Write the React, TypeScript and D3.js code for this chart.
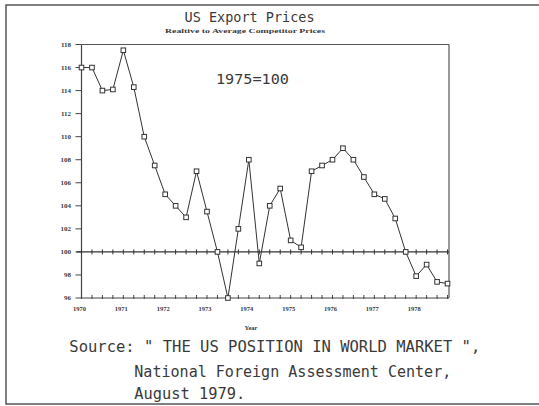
import React from "react";
import * as d3 from "d3";

const quarters: number[] = [
  1970, 1970.25, 1970.5, 1970.75, 1971, 1971.25, 1971.5, 1971.75,
  1972, 1972.25, 1972.5, 1972.75, 1973, 1973.25, 1973.5, 1973.75,
  1974, 1974.25, 1974.5, 1974.75, 1975, 1975.25, 1975.5, 1975.75,
  1976, 1976.25, 1976.5, 1976.75, 1977, 1977.25, 1977.5, 1977.75,
  1978, 1978.25, 1978.5, 1978.75,
];
const prices: number[] = [
  116, 116, 114, 114.1, 117.5, 114.3, 110, 107.5,
  105, 104, 103, 107, 103.5, 100, 96, 102,
  108, 99, 104, 105.5, 101, 100.4, 107, 107.5,
  108, 109, 108, 106.5, 105, 104.6, 102.9, 100,
  97.9, 98.9, 97.4, 97.25,
];
const yTicks: number[] = [96, 98, 100, 102, 104, 106, 108, 110, 112, 114, 116, 118];
const yearLabels: string[] = ["1970", "1971", "1972", "1973", "1974", "1975", "1976", "1977", "1978"];

const title = "US Export Prices";
const subtitle = "Realtive to Average Competitor Prices";
const baseNote = "1975=100";
const xTitle = "Year";
const sourceLines: string[] = [
  "Source: \" THE US POSITION IN WORLD MARKET \",",
  "National Foreign Assessment Center,",
  "August 1979.",
];

export default function App() {
  const W = 539, H = 406;
  const left = 81.5, right = 449, top = 44.5, bottom = 298;
  const x = d3.scaleLinear().domain([1970, 1978.785]).range([left, right]);
  const y = d3.scaleLinear().domain([96, 118]).range([bottom, top]);
  const line = d3.line<number>()
    .x((_, i) => x(quarters[i]))
    .y((d) => y(d));
  const ink = "#3a3a3a";
  const monoFont = "'DejaVu Sans Mono', monospace";
  const serifFont = "'Liberation Serif', 'DejaVu Serif', serif";
  const quarterTicks = d3.range(0, 36).map((i) => 1970 + i * 0.25);

  return (
    <svg width={W} height={H} style={{ position: "absolute", left: 0, top: 0, background: "#fff" }}>
      {/* outer frame */}
      <rect x={6} y={5} width={W + 10} height={399} fill="none" stroke="#555" strokeWidth={1.5} />

      {/* titles */}
      <text x={184.6} y={22} fontFamily={monoFont} fontSize={13.5} fill={ink} textLength={130} lengthAdjust="spacingAndGlyphs">{title}</text>
      <text x={165} y={32.5} fontFamily={serifFont} fontWeight="bold" fontSize={7} fill={ink} textLength={160} lengthAdjust="spacingAndGlyphs">{subtitle}</text>
      <text x={216} y={84} fontFamily={monoFont} fontSize={14.6} fill={ink} textLength={73} lengthAdjust="spacingAndGlyphs">{baseNote}</text>

      {/* plot frame */}
      <line x1={left} x2={right} y1={top} y2={top} stroke="#555" strokeWidth={1.2} />
      <line x1={right} x2={right} y1={top} y2={bottom} stroke="#555" strokeWidth={1.2} />
      <line x1={left} x2={left} y1={top} y2={bottom} stroke="#444" strokeWidth={1.2} />
      <line x1={left} x2={right} y1={bottom} y2={bottom} stroke="#444" strokeWidth={1.2} />

      {/* y ticks */}
      {yTicks.map((t) => (
        <g key={t}>
          <line x1={left - 6} x2={left} y1={y(t)} y2={y(t)} stroke="#444" strokeWidth={1} />
          <text x={71} y={y(t)} dy="0.33em" textAnchor="end" fontFamily={serifFont} fontWeight="bold" fontSize={7} fill={ink}>{t}</text>
        </g>
      ))}

      {/* reference line at 100 with quarter ticks */}
      <line x1={left - 5} x2={right} y1={y(100)} y2={y(100)} stroke="#333" strokeWidth={1.2} />
      {quarterTicks.map((q, i) => (
        <g key={i}>
          <line x1={x(q)} x2={x(q)} y1={y(100) - 2.5} y2={y(100) + 2.5} stroke="#333" strokeWidth={1} />
          <line x1={x(q)} x2={x(q)} y1={bottom - 3} y2={bottom + 1} stroke="#444" strokeWidth={1} />
        </g>
      ))}

      {/* x labels */}
      {yearLabels.map((lab) => (
        <text key={lab} x={x(+lab) - 2} y={310.5} textAnchor="middle" fontFamily={serifFont} fontWeight="bold" fontSize={6.5} fill={ink}>{lab}</text>
      ))}
      <text x={251} y={329.5} textAnchor="middle" fontFamily={serifFont} fontWeight="bold" fontSize={6.5} fill={ink}>{xTitle}</text>

      {/* data line */}
      <path d={line(prices) || ""} fill="none" stroke="#333" strokeWidth={1} />
      {prices.map((v, i) => (
        <rect key={i} x={x(quarters[i]) - 2.3} y={y(v) - 2.3} width={4.6} height={4.6} fill="#fff" stroke="#333" strokeWidth={1} />
      ))}

      {/* source */}
      <text x={69.3} y={352.3} fontFamily={monoFont} fontSize={15} fill={ink} textLength={411} lengthAdjust="spacingAndGlyphs">{sourceLines[0]}</text>
      <text x={134.3} y={376.7} fontFamily={monoFont} fontSize={15} fill={ink} textLength={317} lengthAdjust="spacingAndGlyphs">{sourceLines[1]}</text>
      <text x={134.3} y={399} fontFamily={monoFont} fontSize={15} fill={ink} textLength={111} lengthAdjust="spacingAndGlyphs">{sourceLines[2]}</text>
    </svg>
  );
}
